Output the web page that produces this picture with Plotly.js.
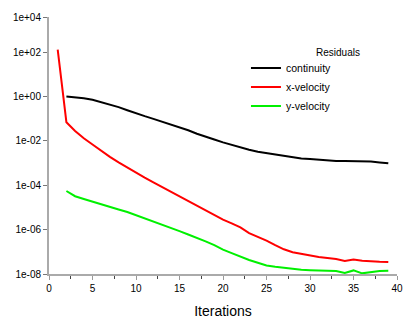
<!DOCTYPE html>
<html>
<head>
<meta charset="utf-8">
<script src="https://cdn.plot.ly/plotly-3.0.1.min.js"></script>
<style>html,body{margin:0;padding:0;background:#fff;}#chart{width:416px;height:324px;}</style>
</head>
<body>
<div id="chart"></div>
<script>
// Iteration numbers
const iterContinuity = [2,3,4,5,6,7,8,9,10,11,12,13,14,15,16,17,18,19,20,21,22,23,24,25,26,27,28,29,30,31,32,33,34,35,36,37,38,39];
const iterXVel = [1,2,3,4,5,6,7,8,9,10,11,12,13,14,15,16,17,18,19,20,21,22,23,24,25,26,27,28,29,30,31,32,33,34,35,36,37,38,39];
const iterYVel = [2,3,4,5,6,7,8,9,10,11,12,13,14,15,16,17,18,19,20,21,22,23,24,25,26,27,28,29,30,31,32,33,34,35,36,37,38,39];

// Residual values
const continuity = [1.0e0, 9.3e-1, 8.3e-1, 7.1e-1, 5.6e-1, 4.4e-1, 3.3e-1, 2.4e-1, 1.7e-1, 1.3e-1,
  9.8e-2, 7.4e-2, 5.5e-2, 4.1e-2, 3.0e-2, 2.1e-2, 1.5e-2, 1.15e-2, 8.5e-3, 6.5e-3,
  5.0e-3, 4.0e-3, 3.2e-3, 2.75e-3, 2.35e-3, 2.05e-3, 1.8e-3, 1.6e-3, 1.5e-3, 1.4e-3,
  1.3e-3, 1.25e-3, 1.25e-3, 1.23e-3, 1.2e-3, 1.17e-3, 1.07e-3, 9.8e-4];
const xVelocity = [1.3e2, 6.9e-2, 2.8e-2, 1.3e-2, 6.8e-3, 3.5e-3, 1.9e-3, 1.07e-3, 6.2e-4, 3.6e-4,
  2.2e-4, 1.35e-4, 8.3e-5, 5.0e-5, 3.1e-5, 1.9e-5, 1.2e-5, 7.4e-6, 4.6e-6, 2.8e-6,
  1.9e-6, 1.25e-6, 6.9e-7, 4.7e-7, 3.2e-7, 2.0e-7, 1.3e-7, 9.5e-8, 7.9e-8, 6.6e-8,
  5.8e-8, 5.2e-8, 4.7e-8, 3.9e-8, 4.5e-8, 4.0e-8, 3.7e-8, 3.6e-8, 3.5e-8];
const yVelocity = [5.5e-5, 3.2e-5, 2.4e-5, 1.8e-5, 1.4e-5, 1.07e-5, 8.1e-6, 6.2e-6, 4.5e-6, 3.2e-6,
  2.3e-6, 1.7e-6, 1.23e-6, 8.5e-7, 6.0e-7, 4.3e-7, 2.95e-7, 2.0e-7, 1.26e-7, 8.7e-8,
  6.0e-8, 4.3e-8, 3.2e-8, 2.4e-8, 2.1e-8, 1.86e-8, 1.66e-8, 1.55e-8, 1.48e-8, 1.41e-8,
  1.38e-8, 1.35e-8, 1.12e-8, 1.45e-8, 1.07e-8, 1.2e-8, 1.38e-8, 1.41e-8];

// Axis labels
const xTickVals = [0,5,10,15,20,25,30,35,40];
const yTickVals = [1e-8, 1e-6, 1e-4, 1e-2, 1, 1e2, 3.8e3];
const yTickText = ['1e-08','1e-06','1e-04','1e-02','1e+00','1e+02','1e+04'];
const seriesNames = ['continuity','x-velocity','y-velocity'];
const legendTitle = 'Residuals';

const font = 'Liberation Sans, Arial, sans-serif';
const traces = [
  {x: iterContinuity, y: continuity, name: seriesNames[0], mode: 'lines', line: {color: '#000000', width: 2}},
  {x: iterXVel, y: xVelocity, name: seriesNames[1], mode: 'lines', line: {color: '#ff0000', width: 2}},
  {x: iterYVel, y: yVelocity, name: seriesNames[2], mode: 'lines', line: {color: '#00f000', width: 2}}
];

const layout = {
  width: 416, height: 324,
  margin: {l: 49, r: 19, t: 17, b: 50, pad: 0},
  paper_bgcolor: '#ffffff', plot_bgcolor: '#ffffff',
  font: {family: font, size: 10, color: '#000000'},
  showlegend: true,
  legend: {
    x: 0.566, xanchor: 'left', y: 0.858, yanchor: 'top',
    bgcolor: 'rgba(0,0,0,0)', borderwidth: 0,
    font: {family: font, size: 10.5, color: '#000'},
    itemwidth: 30, tracegroupgap: 0
  },
  annotations: [{
    text: legendTitle, xref: 'paper', yref: 'paper',
    x: 0.83, xanchor: 'center', y: 0.861, yanchor: 'middle',
    showarrow: false, font: {family: font, size: 10, color: '#000'}
  }],
  xaxis: {
    range: [0, 40], tickvals: xTickVals, ticks: 'outside', ticklen: 4, tickcolor: '#999',
    showgrid: false, zeroline: false, showline: true, linecolor: '#aaaaaa', linewidth: 2,
    tickfont: {family: font, size: 10, color: '#000'},
    minor: {dtick: 2.5, tick0: 0, ticks: 'outside', ticklen: 3, tickcolor: '#444', showgrid: false},
    title: {text: 'Iterations', font: {family: font, size: 14, color: '#000'}, standoff: 13}
  },
  yaxis: {
    type: 'log', range: [-8, 3.58], tickmode: 'array', tickvals: yTickVals, ticktext: yTickText,
    ticks: 'outside', ticklen: 4, tickcolor: '#777',
    showgrid: false, zeroline: false, showline: true, linecolor: '#aaaaaa', linewidth: 2,
    tickfont: {family: font, size: 10, color: '#000'}
  }
};

Plotly.newPlot('chart', traces, layout, {displayModeBar: false, staticPlot: true});
</script>
</body>
</html>
